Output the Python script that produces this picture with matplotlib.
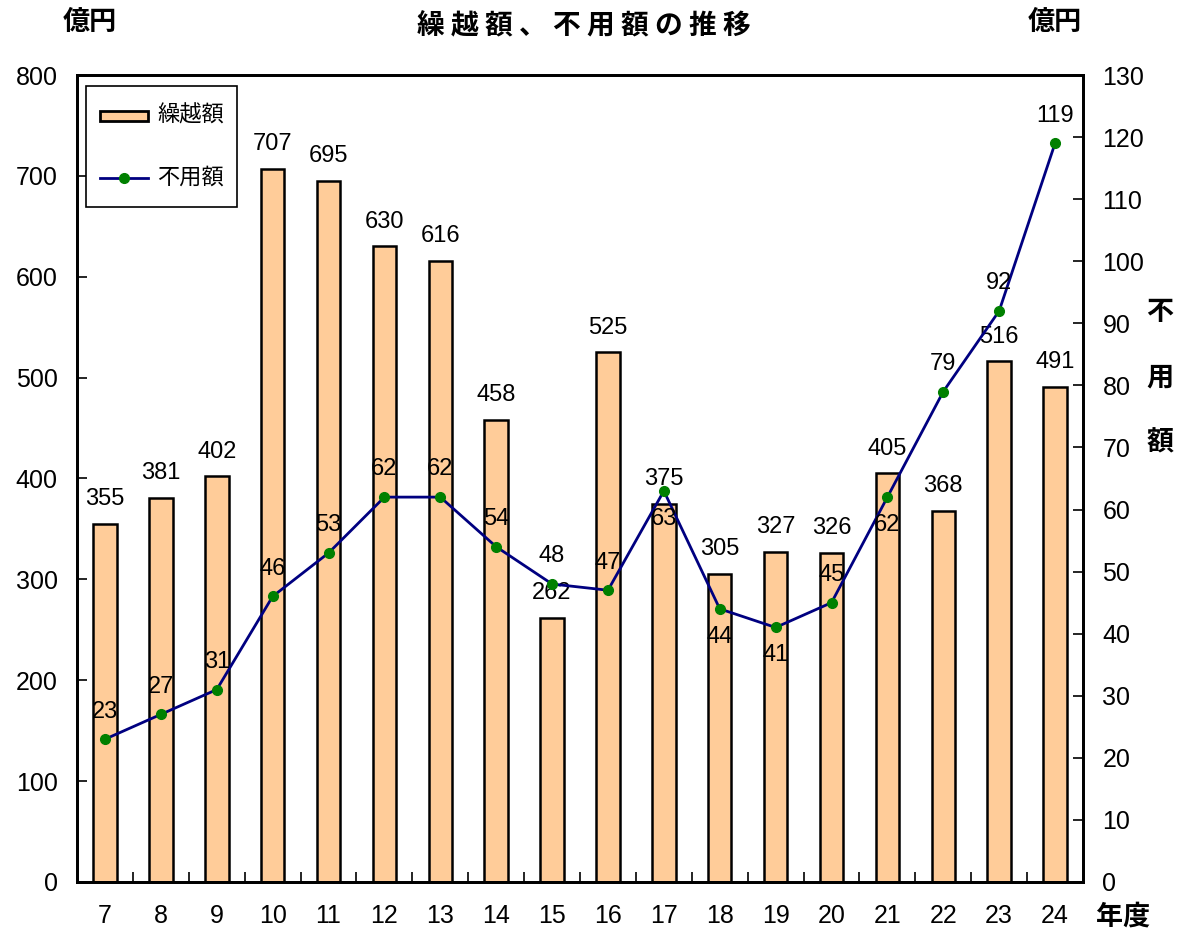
import matplotlib
matplotlib.use("Agg")
import matplotlib.pyplot as plt
from matplotlib.patches import Rectangle
from matplotlib.lines import Line2D

plt.rcParams['font.family'] = ['Liberation Sans', 'Noto Sans CJK JP', 'DejaVu Sans']

years = ['7', '8', '9', '10', '11', '12', '13', '14', '15', '16', '17', '18', '19', '20', '21', '22', '23', '24']
carryover = [355, 381, 402, 707, 695, 630, 616, 458, 262, 525, 375, 305, 327, 326, 405, 368, 516, 491]
unused = [23, 27, 31, 46, 53, 62, 62, 54, 48, 47, 63, 44, 41, 45, 62, 79, 92, 119]
unused_label_below = [False, False, False, False, False, False, False, False, False, False,
                      True, True, True, False, True, False, False, False]
legend_labels = ['繰越額', '不用額']

BAR_COLOR = '#FFCC99'
LINE_COLOR = '#000080'
MARKER_COLOR = '#008000'

fig = plt.figure(figsize=(11.8, 9.34), dpi=100)
ax = fig.add_axes([0.0653, 0.0557, 0.8525, 0.864])
ax2 = ax.twinx()

x = list(range(len(years)))
ax.bar(x, carryover, width=0.42, color=BAR_COLOR, edgecolor='black', linewidth=1.8, zorder=2)
ax.set_xlim(-0.5, len(years) - 0.5)
ax.set_ylim(0, 800)
ax.set_yticks(range(0, 801, 100))
ax.set_xticks(x)
ax.set_xticklabels(years)
ax.set_xticks([i + 0.5 for i in x[:-1]], minor=True)
ax.tick_params(axis='x', which='major', length=0, pad=16, labelsize=18)
ax.tick_params(axis='x', which='minor', direction='in', length=7, width=1.2)
ax.tick_params(axis='y', direction='in', length=7, width=1.2, labelsize=18, pad=14)
for s in ax.spines.values():
    s.set_linewidth(2)

for xi, v in zip(x, carryover):
    ax.annotate(str(v), (xi, v), xytext=(0, 10), textcoords='offset points',
                ha='center', va='bottom', fontsize=17)

ax2.plot(x, unused, color=LINE_COLOR, linewidth=2, marker='o', markersize=7,
         markerfacecolor=MARKER_COLOR, markeredgecolor=MARKER_COLOR, zorder=3)
ax2.set_ylim(0, 130)
ax2.set_yticks(range(0, 131, 10))
ax2.tick_params(axis='y', direction='in', length=7, width=1.2, labelsize=18, pad=14)
for s in ax2.spines.values():
    s.set_linewidth(2)

for xi, v, below in zip(x, unused, unused_label_below):
    if below:
        ax2.annotate(str(v), (xi, v), xytext=(0, -12), textcoords='offset points',
                     ha='center', va='top', fontsize=17)
    else:
        ax2.annotate(str(v), (xi, v), xytext=(0, 12), textcoords='offset points',
                     ha='center', va='bottom', fontsize=17)

# legend box drawn in axes coordinates
T = ax2.transAxes
ax2.add_patch(Rectangle((0.0089, 0.8364), 0.1501, 0.150, transform=T, facecolor='white',
                        edgecolor='black', linewidth=1.2, zorder=6))
ax2.add_patch(Rectangle((0.0229, 0.9430), 0.0477, 0.0124, transform=T, facecolor=BAR_COLOR,
                        edgecolor='black', linewidth=2, zorder=7))
ax2.add_line(Line2D([0.0229, 0.0706], [0.8724, 0.8724], transform=T, color=LINE_COLOR,
                    linewidth=2, zorder=7))
ax2.add_line(Line2D([0.0468], [0.8724], transform=T, marker='o', markersize=7,
                    markerfacecolor=MARKER_COLOR, markeredgecolor=MARKER_COLOR, zorder=8))
ax2.text(0.0795, 0.9492, legend_labels[0], transform=T, ha='left', va='center', fontsize=16, zorder=8)
ax2.text(0.0795, 0.8724, legend_labels[1], transform=T, ha='left', va='center', fontsize=16, zorder=8)

cjk = ['Noto Sans CJK JP']
fig.text(0.495, 0.972, '繰 越 額 、 不 用 額 の 推 移', ha='center', va='center',
         fontsize=20, fontweight='bold', family=cjk)
fig.text(0.076, 0.976, '億円', ha='center', va='center', fontsize=19.5, fontweight='bold', family=cjk)
fig.text(0.894, 0.976, '億円', ha='center', va='center', fontsize=19.5, fontweight='bold', family=cjk)
fig.text(0.952, 0.019, '年度', ha='center', va='center', fontsize=19.5, fontweight='bold', family=cjk)
fig.text(0.983, 0.596, '不\n用\n額', ha='center', va='center', fontsize=19.5, fontweight='bold',
         linespacing=2.7, family=cjk)

fig.savefig('out.png', dpi=100)
